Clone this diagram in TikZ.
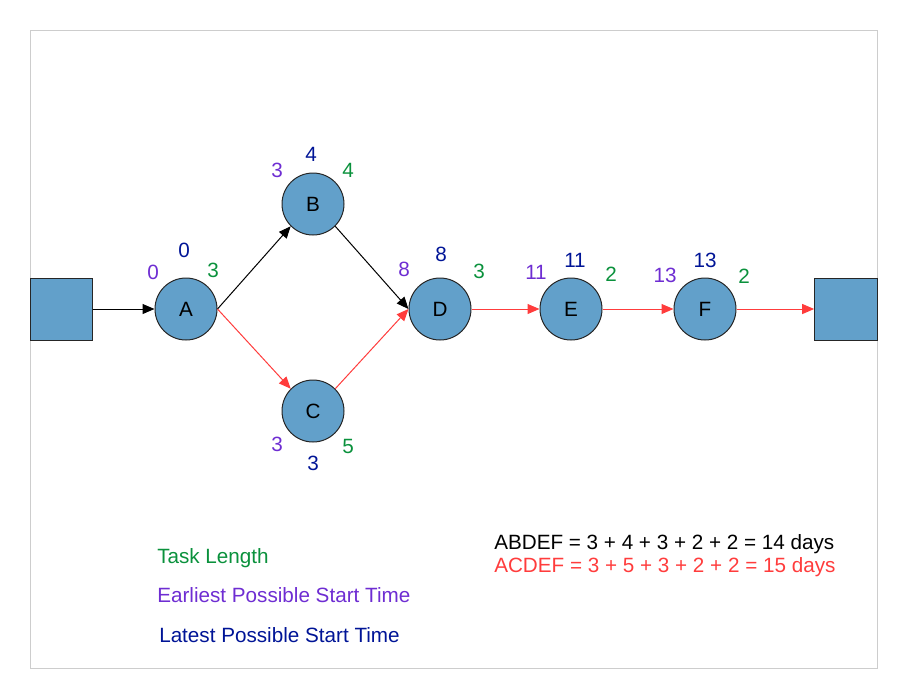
\documentclass[tikz,border=0pt]{standalone}
\usepackage{fontspec}
\setmainfont{Liberation Sans}
\usetikzlibrary{arrows.meta}

\definecolor{taskfill}{RGB}{98,160,202}
\definecolor{tasklen}{RGB}{10,145,60}
\definecolor{earliest}{RGB}{110,45,210}
\definecolor{latest}{RGB}{0,20,150}
\definecolor{critred}{RGB}{255,60,60}
\definecolor{framegray}{RGB}{205,205,205}

\tikzset{
  task/.style={circle, draw=black!85, fill=taskfill, line width=0.75pt, minimum size=46.5pt, inner sep=0pt},
  term/.style={rectangle, draw=black!85, fill=taskfill, line width=0.75pt, minimum width=47pt, minimum height=46.5pt, inner sep=0pt},
  tlen/.style={text=tasklen},
  tearly/.style={text=earliest},
  tlate/.style={text=latest},
  keytext/.style={anchor=base west, inner xsep=0pt},
  link/.style={->, line width=0.75pt},
  crit/.style={->, line width=0.75pt, critred}
}

\begin{document}
\begin{tikzpicture}[>={Triangle[length=9pt,width=7.5pt]}, x=0.75pt, y=-0.75pt,
  every node/.style={font=\fontsize{15.5}{18}\selectfont}]
  \useasboundingbox (0,0) rectangle (904,694);
  \draw[framegray, line width=0.75pt] (30,30) rectangle (877,668);

  \node[term] (start) at (61.5,309) {};
  \node[term] (finish) at (846,309) {};
  \node[task] (A) at (186,309) {A};
  \node[task] (B) at (313,204) {B};
  \node[task] (C) at (313,411) {C};
  \node[task] (D) at (440,309) {D};
  \node[task] (E) at (571,309) {E};
  \node[task] (F) at (705,309) {F};

  \draw[link] (start.east) -- (A.west);
  \draw[link] (A.east) -- (B.south west);
  \draw[crit] (A.east) -- (C.north west);
  \draw[link] (B.south east) -- (D.west);
  \draw[crit] (C.north east) -- (D.west);
  \draw[crit] (D.east) -- (E.west);
  \draw[crit] (E.east) -- (F.west);
  \draw[crit] (F.east) -- (finish.west);

  \node[tearly] (Aes) at (153,272) {0};
  \node[tlate]  (Als) at (184,250) {0};
  \node[tlen]   (Atl) at (213,270) {3};
  \node[tearly] (Bes) at (277,170) {3};
  \node[tlate]  (Bls) at (311,154) {4};
  \node[tlen]   (Btl) at (348,170) {4};
  \node[tearly] (Ces) at (277,444) {3};
  \node[tlate]  (Cls) at (313,463) {3};
  \node[tlen]   (Ctl) at (348,446) {5};
  \node[tearly] (Des) at (404,269) {8};
  \node[tlate]  (Dls) at (441,254) {8};
  \node[tlen]   (Dtl) at (479,271) {3};
  \node[tearly] (Ees) at (536,272) {11};
  \node[tlate]  (Els) at (575,260) {11};
  \node[tlen]   (Etl) at (611,274) {2};
  \node[tearly] (Fes) at (665,275) {13};
  \node[tlate]  (Fls) at (705,260) {13};
  \node[tlen]   (Ftl) at (744,276) {2};

  \node[tlen, keytext]   (keylen)   at (157,563) {Task Length};
  \node[tearly, keytext] (keyearly) at (157,602) {Earliest Possible Start Time};
  \node[tlate, keytext]  (keylate)  at (159,642) {Latest Possible Start Time};

  \node[keytext] (pathB) at (494,549) {ABDEF = 3 + 4 + 3 + 2 + 2 = 14 days};
  \node[keytext, text=critred] (pathC) at (494,572) {ACDEF = 3 + 5 + 3 + 2 + 2 = 15 days};
\end{tikzpicture}
\end{document}
